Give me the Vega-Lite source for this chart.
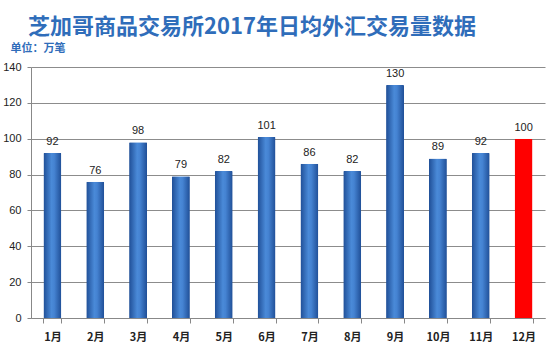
{
  "$schema": "https://vega.github.io/schema/vega-lite/v6.json",
  "width": 514,
  "height": 251,
  "autosize": {"type": "none"},
  "padding": {"left": 31, "top": 67, "right": 13, "bottom": 38},
  "background": "white",
  "title": {
    "text": "芝加哥商品交易所2017年日均外汇交易量数据",
    "anchor": "start",
    "frame": "group",
    "dx": -3,
    "offset": 3,
    "fontSize": 22,
    "font": "Noto Sans CJK SC",
    "fontWeight": "bold",
    "color": "#2F6DBA"
  },
  "config": {
    "view": {"stroke": null},
    "font": "Noto Sans CJK SC"
  },
  "data": {
    "values": [
      {"month": "1月", "value": 92},
      {"month": "2月", "value": 76},
      {"month": "3月", "value": 98},
      {"month": "4月", "value": 79},
      {"month": "5月", "value": 82},
      {"month": "6月", "value": 101},
      {"month": "7月", "value": 86},
      {"month": "8月", "value": 82},
      {"month": "9月", "value": 130},
      {"month": "10月", "value": 89},
      {"month": "11月", "value": 92},
      {"month": "12月", "value": 100}
    ]
  },
  "encoding": {
    "x": {
      "field": "month",
      "type": "nominal",
      "sort": null,
      "scale": {"paddingInner": 0.58, "paddingOuter": 0.29},
      "axis": {
        "title": null,
        "labelAngle": 0,
        "labelFont": "Noto Sans CJK SC",
        "labelFontSize": 11,
        "labelFontWeight": "bold",
        "labelColor": "#222",
        "labelPadding": 8,
        "domainColor": "#888",
        "tickColor": "#888",
        "tickBand": "extent",
        "tickSize": 5
      }
    },
    "y": {
      "field": "value",
      "type": "quantitative",
      "scale": {"domain": [0, 140], "nice": false},
      "axis": {
        "values": [0, 20, 40, 60, 80, 100, 120, 140],
        "title": "单位：万笔",
        "titleAngle": 0,
        "titleAlign": "left",
        "titleBaseline": "middle",
        "titleX": -21,
        "titleY": -19,
        "titleFontSize": 11,
        "titleFontWeight": "bold",
        "titleColor": "#2F6DBA",
        "titleFont": "Noto Sans CJK SC",
        "labelFont": "Liberation Sans",
        "labelFontSize": 11,
        "labelColor": "#222",
        "labelPadding": 6,
        "gridColor": "#8C8C8C",
        "gridWidth": 1,
        "domainColor": "#888",
        "tickColor": "#888",
        "tickSize": 4
      }
    }
  },
  "layer": [
    {
      "mark": {"type": "bar", "cornerRadiusTopLeft": 1, "cornerRadiusTopRight": 1},
      "encoding": {
        "color": {
          "condition": {"test": "datum.month === '12月'", "value": "#FF0000"},
          "value": {
            "gradient": "linear",
            "x1": 0, "x2": 1, "y1": 0, "y2": 0,
            "stops": [
              {"offset": 0, "color": "#1F4E96"},
              {"offset": 0.45, "color": "#4A8AD8"},
              {"offset": 0.6, "color": "#4583D2"},
              {"offset": 1, "color": "#1F4E96"}
            ]
          }
        }
      }
    },
    {
      "mark": {"type": "text", "baseline": "bottom", "dy": -6, "fontSize": 11, "font": "Liberation Sans", "color": "#222"},
      "encoding": {"text": {"field": "value", "type": "quantitative"}}
    }
  ]
}
